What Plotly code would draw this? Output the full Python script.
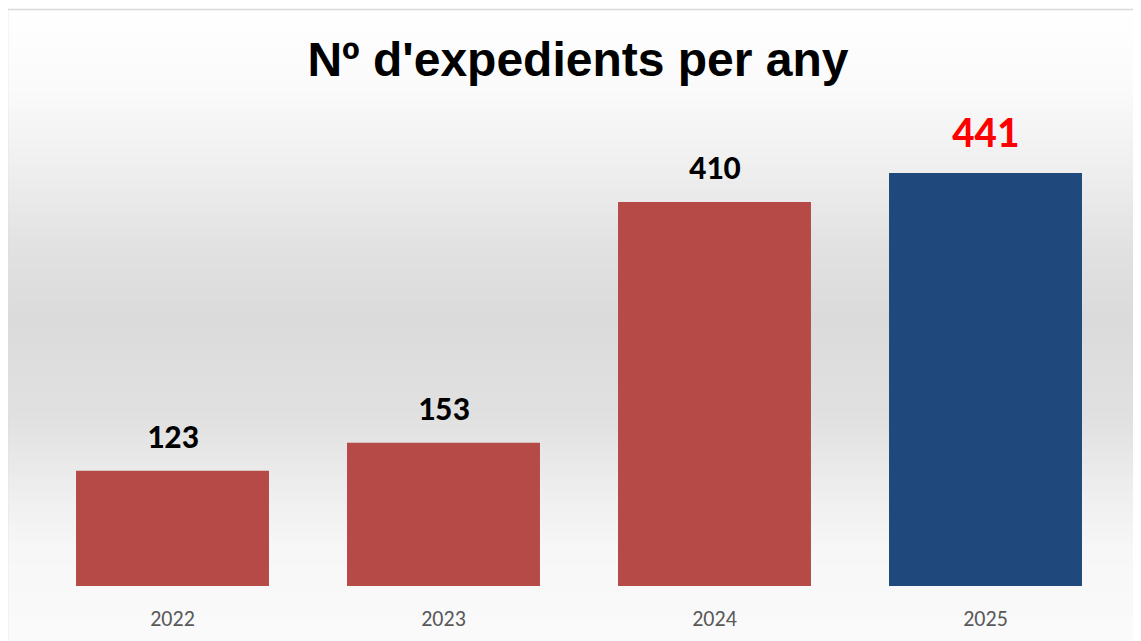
import plotly.graph_objects as go

years = ["2022", "2023", "2024", "2025"]
counts = [123, 153, 410, 441]
bar_colors = ["#b54a47", "#b54a47", "#b54a47", "#1f497d"]
label_colors = ["#000000", "#000000", "#000000", "#ff0000"]
label_sizes = [34, 34, 34, 44]

OFF = 8  # page body margin in the browser
W, H = 1141, 641
# target pixel geometry (reference coords)
PL, PR, PT, PB = 37, 1121, 100, 586
ML, MT = PL - OFF, PT - OFF
MR = W - (PR - OFF)
MB = H - (PB - OFF)
PW, PH = W - ML - MR, H - MT - MB

def px_to_paper_x(x):
    return (x - OFF - ML) / PW

def px_to_paper_y(y):
    return (H - MB - (y - OFF)) / PH

# background gradient stops (pixel y, grey level)
stops = [(9, 255), (90, 250), (160, 240), (250, 225), (320, 219), (420, 225), (490, 238), (550, 247), (660, 251)]

def grey_at(y):
    for (y0, g0), (y1, g1) in zip(stops[:-1], stops[1:]):
        if y0 <= y <= y1:
            t = (y - y0) / (y1 - y0)
            return g0 + (g1 - g0) * t
    return stops[-1][1]

shapes = []
step = 4
y = 9
while y < H + OFF:
    g = int(round(grey_at(y + step / 2)))
    shapes.append(dict(type="rect", xref="paper", yref="paper",
                       x0=px_to_paper_x(8), x1=px_to_paper_x(1138),
                       y0=px_to_paper_y(y + step + 0.5), y1=px_to_paper_y(y),
                       fillcolor=f"rgb({g},{g},{g})", line=dict(width=0), layer="below"))
    y += step
# frame
shapes.append(dict(type="rect", xref="paper", yref="paper",
                   x0=px_to_paper_x(7.5), x1=px_to_paper_x(1138.5),
                   y0=px_to_paper_y(H + 20), y1=px_to_paper_y(9.5),
                   fillcolor="rgba(0,0,0,0)", line=dict(color="#d9d9d9", width=1.5), layer="below"))

fig = go.Figure()
fig.add_trace(go.Bar(x=years, y=counts, marker=dict(color=bar_colors, line=dict(width=0)),
                     width=0.712, hoverinfo="x+y"))

annotations = []
for i, (v, c, s) in enumerate(zip(counts, label_colors, label_sizes)):
    annotations.append(dict(x=i, y=v, xref="x", yref="y", text=f"<b>{v}</b>", showarrow=False,
                            yanchor="bottom", yshift=12,
                            font=dict(family="Carlito, Lato, Calibri, sans-serif", size=s, color=c)))

fig.update_layout(
    width=W, height=H,
    margin=dict(l=ML, r=MR, t=MT, b=MB),
    paper_bgcolor="white", plot_bgcolor="rgba(0,0,0,0)",
    title=dict(text="<b>Nº d'expedients per any</b>", x=(578 - OFF) / W, xanchor="center",
               y=1 - (59 - OFF) / H, yanchor="middle",
               font=dict(family="Liberation Sans, Arial, sans-serif", size=48, color="#000000")),
    xaxis=dict(type="category", showgrid=False, zeroline=False, showline=False, ticks="outside", ticklen=13,
               tickcolor="rgba(0,0,0,0)", range=[-0.5, 3.5],
               tickfont=dict(family="Carlito, Lato, Calibri, sans-serif", size=22, color="#595959")),
    yaxis=dict(range=[0, PH / 0.9365], visible=False, showgrid=False, zeroline=False),
    shapes=shapes, annotations=annotations, showlegend=False, bargap=0.288,
)

fig.write_html("out.html")
